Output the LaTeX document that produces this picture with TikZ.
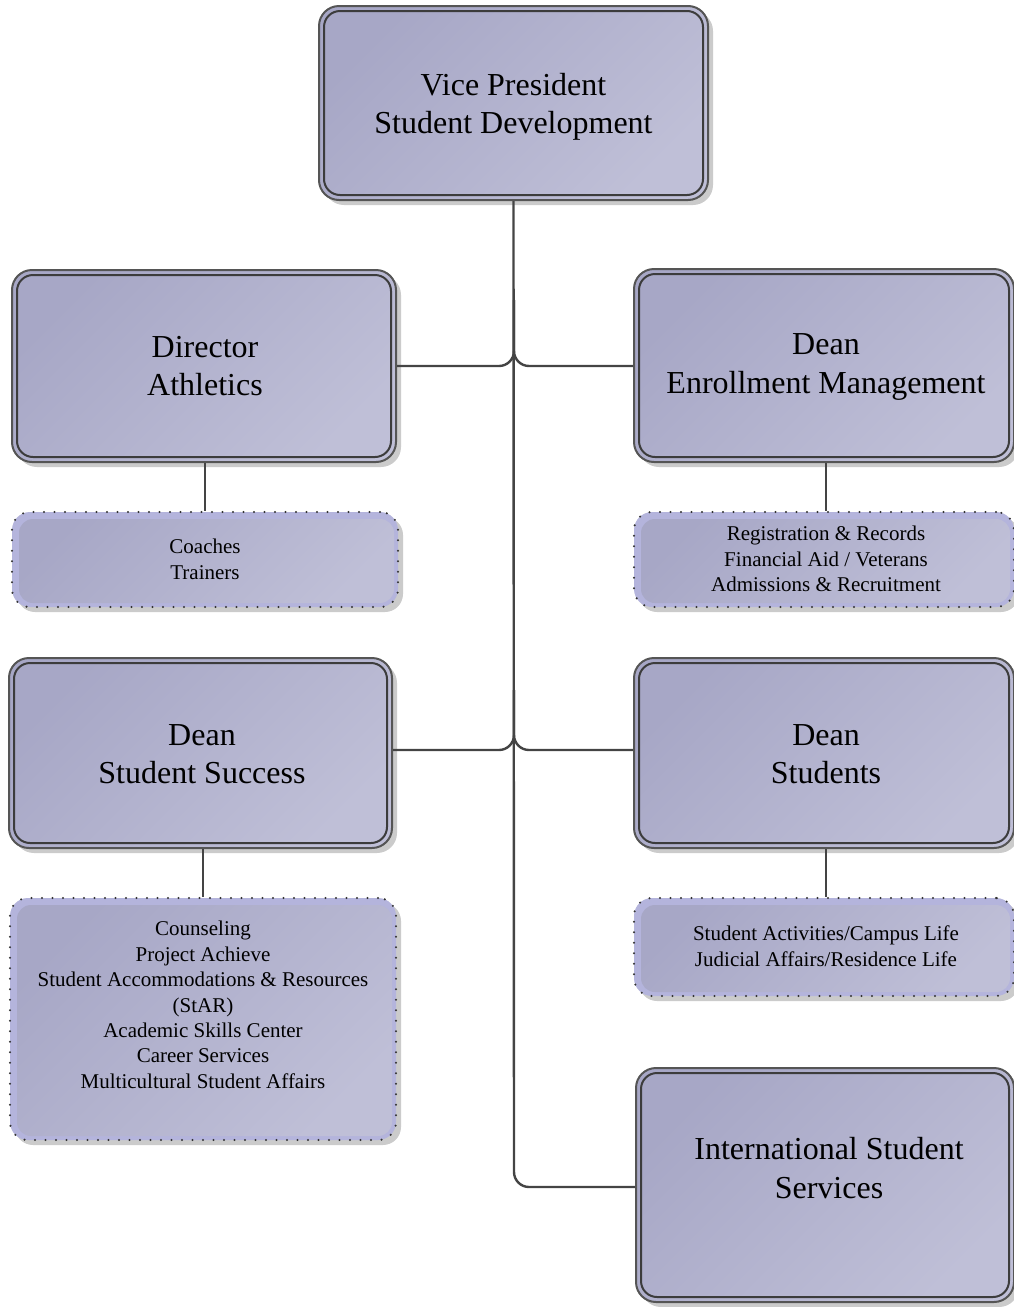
\documentclass[tikz,border=0pt]{standalone}
\usepackage{fontspec}
\setmainfont{Liberation Serif}
\usetikzlibrary{shadows}
\definecolor{boxA}{HTML}{A7A7C6}
\definecolor{boxB}{HTML}{BFBFD7}
\definecolor{band}{HTML}{B4B4DC}
\definecolor{outline}{HTML}{555555}
\definecolor{inline}{HTML}{3C3C3C}
\definecolor{conn}{HTML}{444444}
\definecolor{shadowc}{HTML}{CBCBCB}
\tikzset{
  bigtext/.style={font=\fontsize{32}{38.5}\selectfont, align=center},
  smalltext/.style={font=\fontsize{21}{25.4}\selectfont, align=center},
  bigbox/.style={rounded corners=20pt, draw=outline, line width=2pt,
    top color=boxA, bottom color=boxB, shading angle=45, inner sep=0pt,
    drop shadow={shadow xshift=5pt, shadow yshift=-5pt, fill=shadowc, opacity=1},
    path picture={\draw[inline, line width=2pt, rounded corners=16pt]
      ([shift={(5pt,-5pt)}]path picture bounding box.north west) rectangle
      ([shift={(-5pt,5pt)}]path picture bounding box.south east);}},
  dotbox/.style={smalltext, rounded corners=18pt, draw=black!80, line width=2.3pt,
    dash pattern=on 0pt off 10.5pt, line cap=round, fill=band, inner sep=0pt,
    drop shadow={shadow xshift=5pt, shadow yshift=-5pt, fill=shadowc, opacity=1},
    path picture={\shade[top color=boxA, bottom color=boxB, shading angle=45, rounded corners=14pt]
      ([shift={(7pt,-7pt)}]path picture bounding box.north west) rectangle
      ([shift={(-4pt,4pt)}]path picture bounding box.south east);}},
  link/.style={draw=conn, line width=2.4pt, rounded corners=15pt}
}
\begin{document}
\begin{tikzpicture}[x=1pt,y=-1pt]
\useasboundingbox (0,0) rectangle (1014,1307);
\clip (0,0) rectangle (1014,1307);
% main boxes
\node[bigbox, minimum width=389pt, minimum height=194pt] (vp) at (513.5,103) {};
\node[bigtext] (vpt) at (513.5,107) {Vice President\\Student Development};
\node[bigbox, minimum width=384pt, minimum height=192pt] (dir) at (204,366) {};
\node[bigtext] (dirt) at (205,366) {Director\\Athletics};
\node[bigbox, minimum width=380pt, minimum height=193pt] (enr) at (824,365.5) {};
\node[bigtext] (enrt) at (826,367) {Dean\\Enrollment Management};
\node[bigbox, minimum width=383pt, minimum height=190pt] (ss) at (200.5,753) {};
\node[bigtext] (sst) at (202,754) {Dean\\Student Success};
\node[bigbox, minimum width=380pt, minimum height=190pt] (ds) at (824,753) {};
\node[bigtext] (dst) at (826,754) {Dean\\Students};
\node[bigbox, minimum width=378pt, minimum height=234pt] (intl) at (825,1185) {};
\node[bigtext] (intlt) at (829,1168) {International Student\\Services};
% dotted boxes
\node[dotbox, minimum width=386pt, minimum height=95pt] (coach) at (205,559.5) {Coaches\\Trainers};
\node[dotbox, minimum width=380pt, minimum height=95pt] (reg) at (824,559.5) {};
\node[smalltext] (regt) at (826,559) {Registration \& Records\\Financial Aid / Veterans\\Admissions \& Recruitment};
\node[dotbox, minimum width=386pt, minimum height=242pt] (couns) at (203,1019) {};
\node[smalltext] (counst) at (203,1005) {Counseling\\Project Achieve\\Student Accommodations \& Resources\\(StAR)\\Academic Skills Center\\Career Services\\Multicultural Student Affairs};
\node[dotbox, minimum width=380pt, minimum height=98pt] (act) at (824,947) {};
\node[smalltext] (actt) at (826,946) {Student Activities/Campus Life\\Judicial Affairs/Residence Life};
% connectors
\coordinate (j1) at (514,366);
\coordinate (j2) at (514,750);
\coordinate (j3) at (514,1187);
\path[link] (vp.south) -- (j3) -- (intl.west |- j3);
\path[link] (dir.east |- j1) -- (j1) -- (514,300);
\path[link] (enr.west |- j1) -- (j1) -- (514,300);
\path[link] (ss.east |- j2) -- (j2) -- (514,690);
\path[link] (ds.west |- j2) -- (j2) -- (514,690);
\path[link] (205,0 |- dir.south) -- (205,0 |- coach.north);
\path[link] (826,0 |- enr.south) -- (826,0 |- reg.north);
\path[link] (203,0 |- ss.south) -- (203,0 |- couns.north);
\path[link] (826,0 |- ds.south) -- (826,0 |- act.north);
\end{tikzpicture}
\end{document}
